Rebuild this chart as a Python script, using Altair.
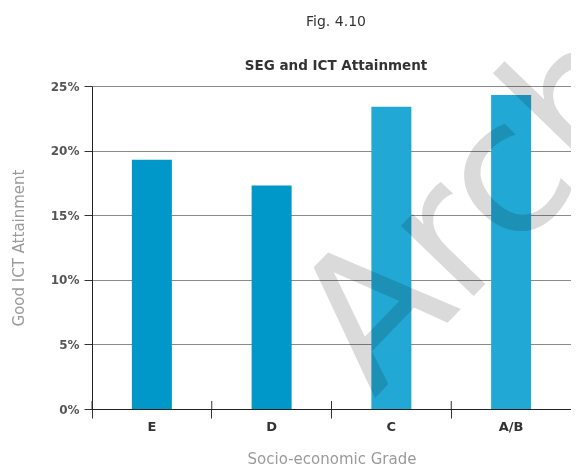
import altair as alt
import pandas as pd

grades = ["E", "D", "C", "A/B"]
values = [19.3, 17.3, 23.4, 24.3]
bar_colors = ["#0098c9", "#0098c9", "#22a8d4", "#22a8d4"]
y_ticks = [0, 5, 10, 15, 20, 25]
fig_title = ["Fig. 4.10"]
chart_title = ["SEG and ICT Attainment"]
watermark = ["Archive"]

FONT = "DejaVu Sans"
df = pd.DataFrame({"grade": grades, "value": [v / 100 for v in values], "color": bar_colors})

x_axis = alt.Axis(labelAngle=0, bandPosition=0, tickSize=9, tickColor="#333",
                  domainColor="#222", labelFont=FONT, labelFontSize=13,
                  labelFontWeight="bold", labelColor="#333", labelPadding=2,
                  titleFont=FONT, titleFontSize=15, titleFontWeight="normal",
                  titleColor="#9a9a9a", titleY=49, titleBaseline="middle", grid=False)
x_scale = alt.Scale(paddingInner=0, paddingOuter=0)

bars = alt.Chart(df).mark_bar(width=40).encode(
    x=alt.X("grade:N", sort=grades, title="Socio-economic Grade", scale=x_scale, axis=x_axis),
    y=alt.Y("value:Q", title="Good ICT Attainment",
            scale=alt.Scale(domain=[0, 0.25], nice=False),
            axis=alt.Axis(format=".0%", values=[t / 100 for t in y_ticks], tickSize=8,
                          tickColor="#333", domainColor="#222", gridColor="#8a8a8a",
                          gridWidth=1, labelFont=FONT, labelFontSize=12,
                          labelFontWeight="bold", labelColor="#555", labelPadding=5,
                          titleFont=FONT, titleFontSize=15, titleFontWeight="normal",
                          titleColor="#9a9a9a", titleX=-74, titleBaseline="middle")),
    color=alt.Color("color:N", scale=None),
)

ticks_up = alt.Chart(df).mark_rule(color="#333").encode(
    x=alt.X("grade:N", sort=grades, title="Socio-economic Grade", scale=x_scale,
            axis=x_axis, bandPosition=0),
    y=alt.value(315), y2=alt.value(323),
)

t1 = alt.Chart(pd.DataFrame({"t": fig_title})).mark_text(
    font=FONT, fontSize=14, color="#333", align="center", baseline="middle"
).encode(text="t:N", x=alt.value(244), y=alt.value(-64))

t2 = alt.Chart(pd.DataFrame({"t": chart_title})).mark_text(
    font=FONT, fontSize=13.5, fontWeight="bold", color="#333",
    align="center", baseline="middle"
).encode(text="t:N", x=alt.value(244), y=alt.value(-20))

wm = alt.Chart(pd.DataFrame({"t": watermark})).mark_text(
    font=FONT, fontSize=185, angle=314, align="left", baseline="alphabetic",
    color="#dadada", blend="multiply"
).encode(text="t:N", x=alt.value(282), y=alt.value(313))

chart = alt.layer(bars, ticks_up, wm, t1, t2).properties(
    width=479, height=323,
    padding={"left": 84, "top": 78, "right": 0, "bottom": 57},
    autosize=alt.AutoSizeParams(type="none"),
).configure_view(stroke=None)

chart.save("out.html", embed_options={"renderer": "svg", "actions": False})
